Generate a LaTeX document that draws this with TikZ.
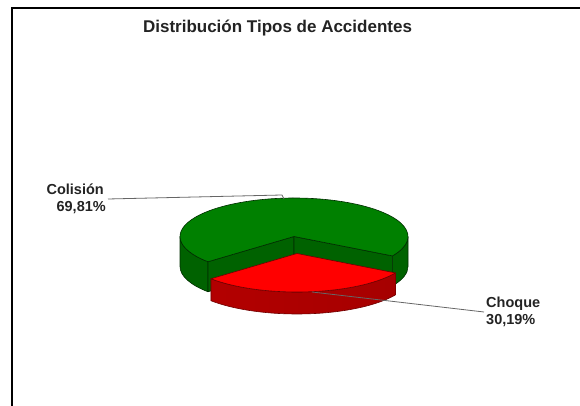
\documentclass[tikz,border=0pt]{standalone}
\usepackage{fontspec}
\setmainfont{Liberation Sans}
\usetikzlibrary{calc}
\definecolor{gtopc}{RGB}{0,128,0}
\definecolor{gsidec}{RGB}{0,98,0}
\definecolor{gline}{RGB}{0,45,0}
\definecolor{rtopc}{RGB}{255,0,0}
\definecolor{rline}{RGB}{110,0,0}
\definecolor{txt}{RGB}{35,35,35}
\begin{document}
\begin{tikzpicture}[x=1pt,y=1pt,
  lbl/.style={font=\fontsize{14.5}{16}\selectfont\bfseries, text=txt, inner sep=0pt},
  leader/.style={draw=black!60, line width=0.8pt},
  gface/.style={fill=gsidec, draw=gline, line width=0.6pt, line join=round},
  gtop/.style={fill=gtopc, draw=gline, line width=0.6pt, line join=round},
  rside/.style={left color=rtopc!70!black, middle color=rtopc, right color=rtopc!65!black, draw=rline, line width=0.6pt, line join=round},
  rtop/.style={fill=rtopc, draw=rline, line width=0.6pt, line join=round},
  ell/.style={x radius=114pt, y radius=38.5pt}]
\useasboundingbox (0,0) rectangle (580,406);
% frame
\draw[line width=2.6pt] (12,-5) -- (12,398) -- (590,398);
% title
\node[font=\fontsize{17}{19}\selectfont\bfseries, text=txt, inner sep=0pt, anchor=base] (title) at (277.5,373) {Distribución Tipos de Accidentes};
% geometry
\def\dg{30}
\def\dr{22}
\def\sa{221}
\def\ea{329.7}
\coordinate (G) at (294,169.5);
\coordinate (R) at (297,152.5);
\coordinate (G1) at ($(G)+(\sa:114pt and 38.5pt)$);
\coordinate (G2) at ($(G)+(\ea:114pt and 38.5pt)$);
\coordinate (GL) at ($(G)+(180:114pt and 38.5pt)$);
\coordinate (R1) at ($(R)+(\sa:114pt and 38.5pt)$);
% green outer sides
\path[gface] (GL) arc[start angle=180, end angle=\sa, ell] -- ++(0,-\dg) arc[start angle=\sa, end angle=180, ell] -- cycle;
\path[gface] (G2) arc[start angle=\ea, end angle=360, ell] -- ++(0,-\dg) arc[start angle=360, end angle=\ea, ell] -- cycle;
% green cut faces
\path[gface] (G) -- (G1) -- ++(0,-\dg) -- ($(G)+(0,-\dg)$) -- cycle;
\path[gface] (G) -- (G2) -- ++(0,-\dg) -- ($(G)+(0,-\dg)$) -- cycle;
% green top
\path[gtop] (G) -- (G2) arc[start angle=\ea-360, end angle=\sa, ell] -- cycle;
% red side
\path[rside] (R1) arc[start angle=\sa, end angle=\ea, ell] -- ++(0,-\dr) arc[start angle=\ea, end angle=\sa, ell] -- cycle;
% red top
\path[rtop] (R) -- (R1) arc[start angle=\sa, end angle=\ea, ell] -- cycle;
% labels
\node[lbl, anchor=base east] (colA) at (104,211) {Colisión};
\node[lbl, anchor=base east] (colB) at (106,194) {69,81\%};
\node[lbl, anchor=base west] (choA) at (486,98) {Choque};
\node[lbl, anchor=base west] (choB) at (486,81) {30,19\%};
% leaders
\coordinate (cl0) at (108,207);
\coordinate (cl1) at (282,211);
\coordinate (cl2) at (284,207);
\draw[leader] (cl0) -- (cl1) -- (cl2);
\coordinate (ch0) at (312,114);
\coordinate (ch1) at (484,94);
\draw[leader] (ch0) -- (ch1);
\end{tikzpicture}
\end{document}
